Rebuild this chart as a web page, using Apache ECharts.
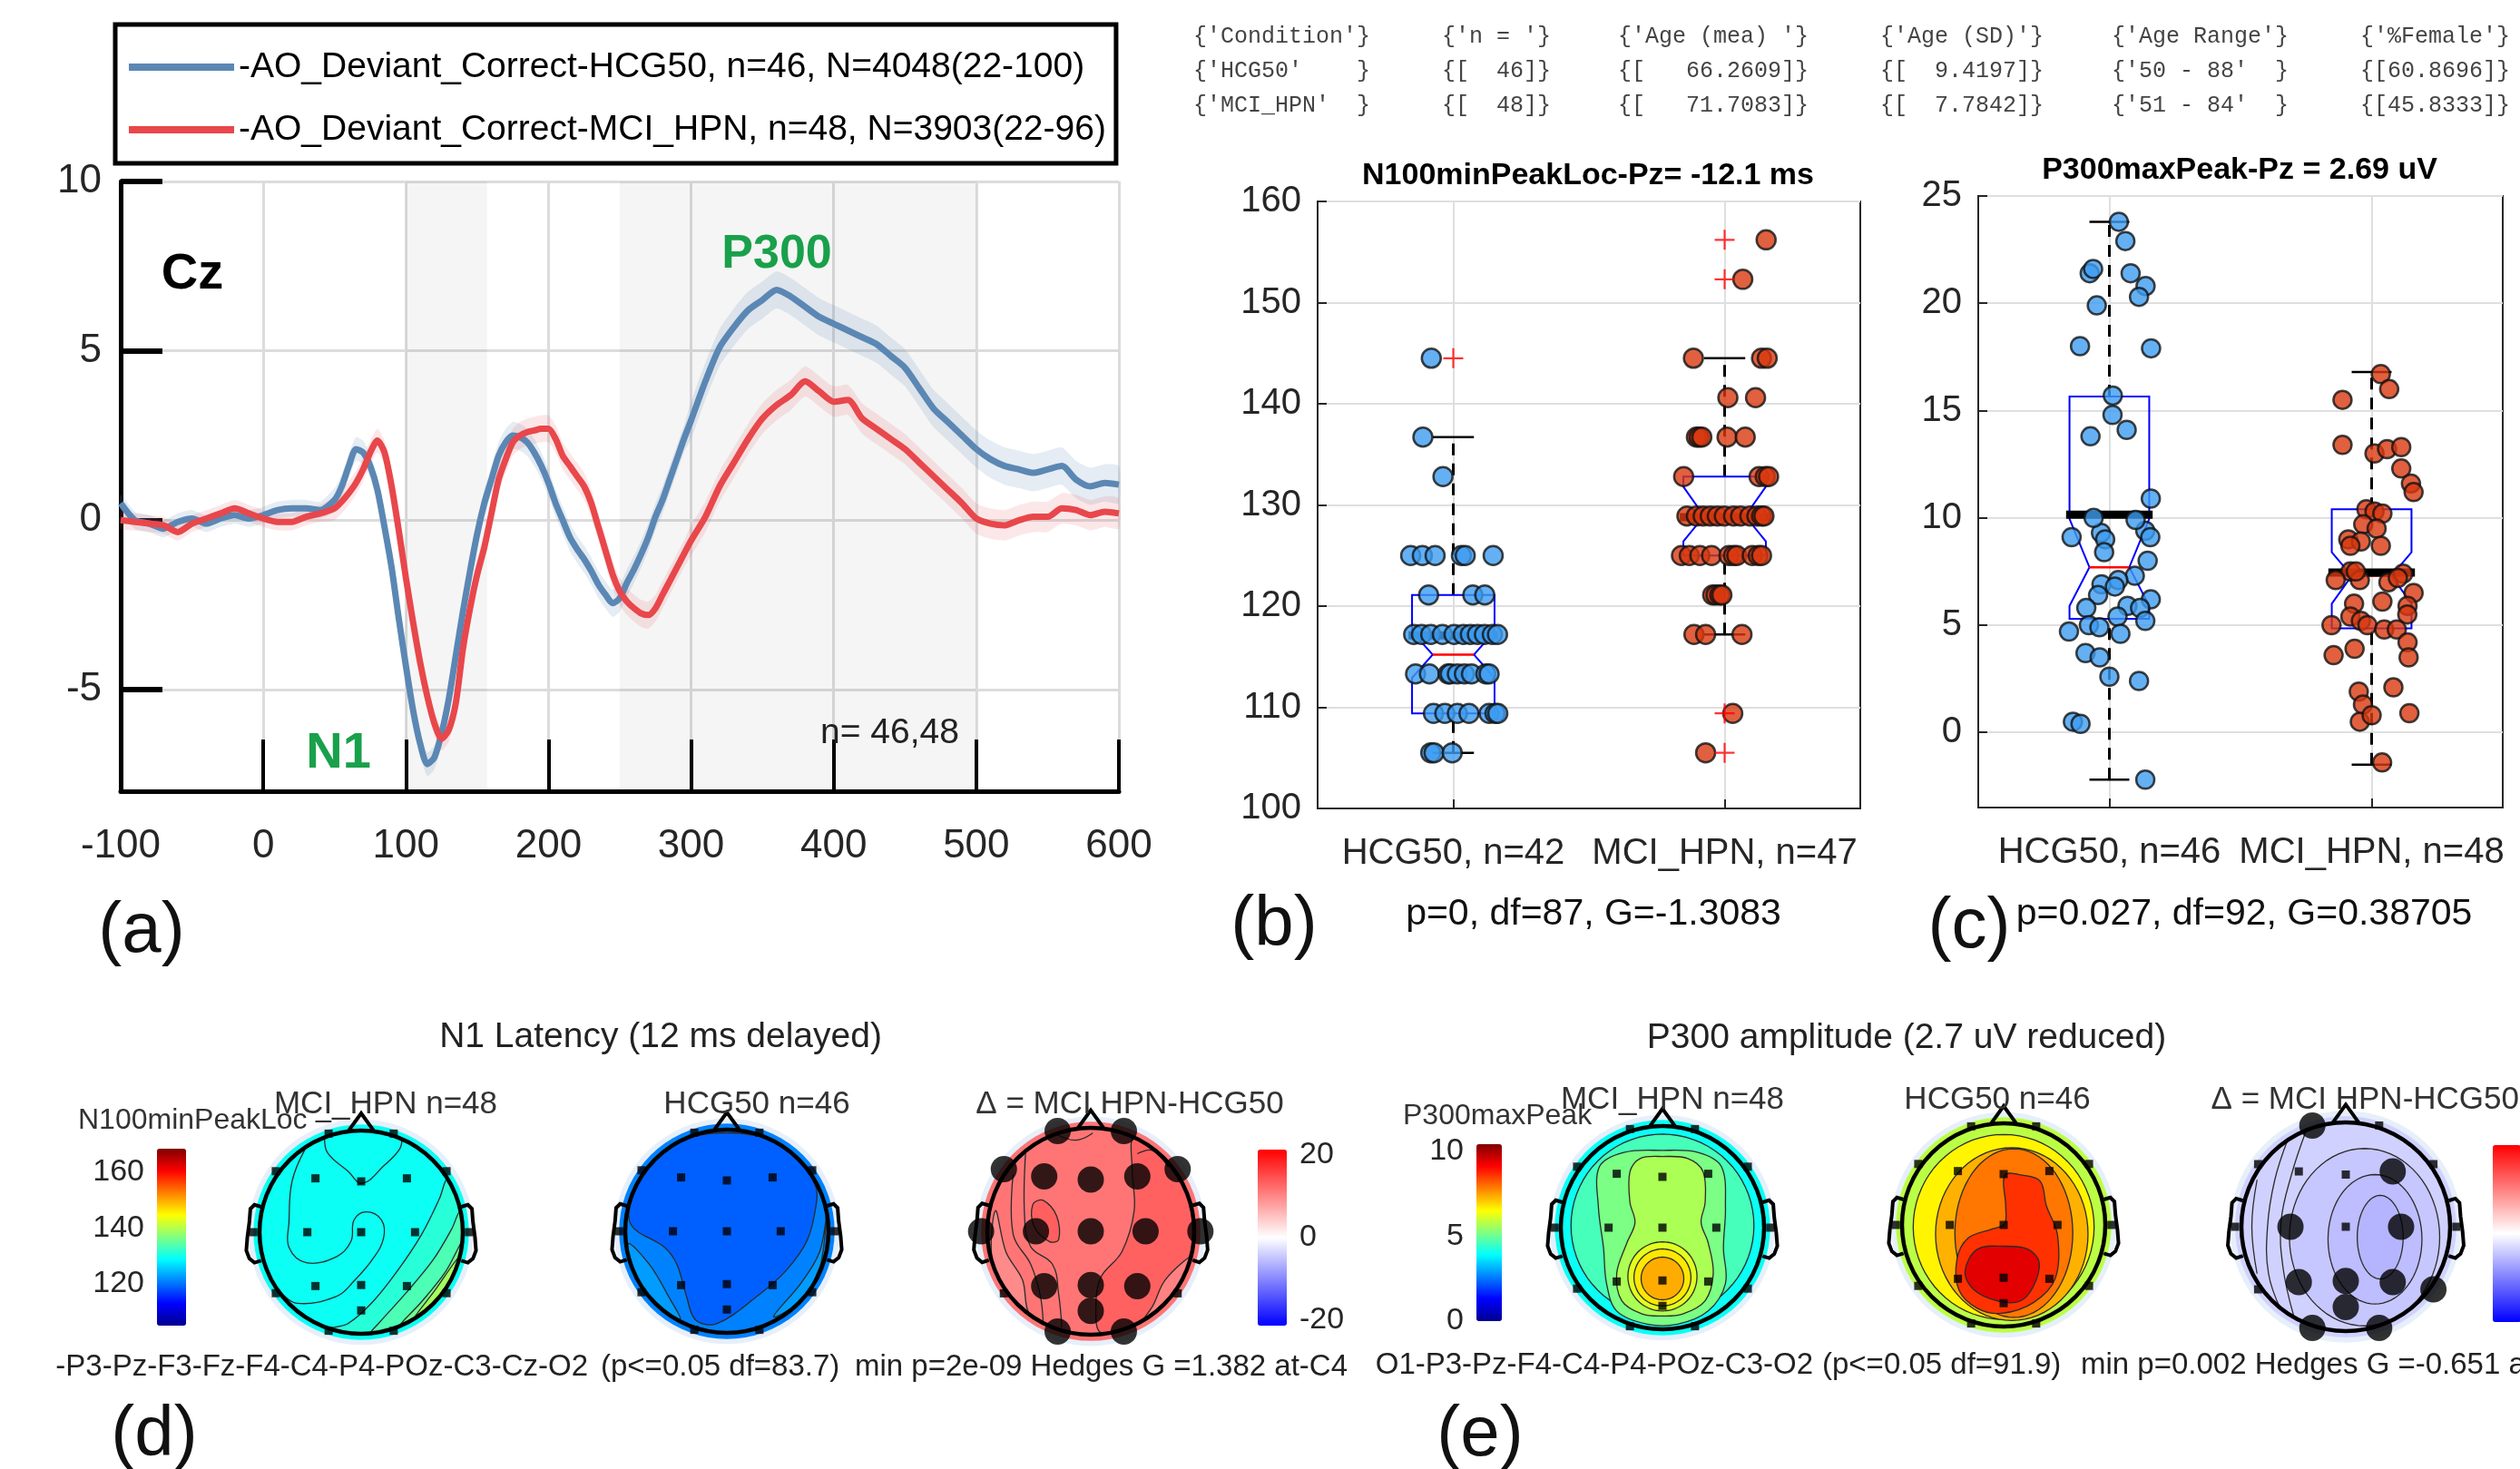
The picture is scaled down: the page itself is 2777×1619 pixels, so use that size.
<!DOCTYPE html>
<html>
<head>
<meta charset="utf-8">
<title>AO deviant ERP: HCG50 vs MCI_HPN</title>
<script src="https://cdn.jsdelivr.net/npm/echarts@6.0.0/dist/echarts.min.js"></script>
<style>
  html, body { margin: 0; padding: 0; background: #fff; }
  #chart { width: 2777px; height: 1619px; }
</style>
</head>
<body>
<div id="chart"></div>
<script>
// ---------- (a) grand average at Cz, uV ----------
const timeMs = [
  -100, -90, -80, -70, -60, -50, -40, -30, -20, -10, 0, 10, 20, 30, 40,
  50, 55, 60, 65, 70, 75, 80, 85, 90, 95, 100, 105, 110, 115, 120, 125, 130, 135, 140, 145,
  150, 155, 160, 165, 170, 175, 180, 185, 190, 195, 200, 205, 210, 215, 220, 225, 230, 235, 240, 245,
  250, 255, 260, 265, 270, 275, 280, 285, 290, 295, 300,
  310, 320, 330, 340, 350, 360, 370, 380, 390, 400, 410, 420, 430, 440, 450, 460, 470, 480, 490, 500,
  510, 520, 530, 540, 550, 560, 570, 580, 590, 600
];
const hcgCz = [
  0.5, 0.0, -0.1, -0.25, -0.05, 0.05, -0.1, 0.05, 0.15, 0.05, 0.15, 0.3, 0.35, 0.35, 0.3,
  0.6, 1.0, 1.6, 2.1, 2.0, 1.6, 0.9, -0.2, -1.4, -2.9, -4.3, -5.6, -6.6, -7.2, -7.0, -6.3, -5.3, -4.0, -2.7, -1.5,
  -0.4, 0.5, 1.2, 1.9, 2.3, 2.5, 2.45, 2.3, 2.0, 1.6, 1.1, 0.5, 0.0, -0.5, -0.85, -1.15, -1.5, -1.9, -2.2, -2.45,
  -2.3, -1.85, -1.45, -1.0, -0.5, 0.1, 0.6, 1.2, 1.8, 2.4, 2.95,
  4.1, 5.1, 5.7, 6.2, 6.5, 6.8, 6.6, 6.3, 6.0, 5.8, 5.6, 5.4, 5.2, 4.85, 4.5, 3.9, 3.3, 2.9, 2.5, 2.1,
  1.8, 1.6, 1.5, 1.4, 1.5, 1.6, 1.2, 1.0, 1.1, 1.05
];
const mciCz = [
  0.0, -0.05, -0.1, -0.15, -0.35, -0.1, 0.05, 0.2, 0.35, 0.2, 0.05, -0.05, -0.05, 0.1, 0.2,
  0.35, 0.55, 0.8, 1.1, 1.5, 2.0, 2.35, 2.0, 1.0, -0.3, -1.7, -3.0, -4.2, -5.2, -6.0, -6.45, -6.2, -5.4, -3.8, -2.6,
  -1.6, -0.8, 0.2, 1.2, 1.8, 2.3, 2.5, 2.6, 2.65, 2.7, 2.7, 2.4, 1.9, 1.6, 1.3, 1.0, 0.5, -0.2, -0.9, -1.6,
  -2.1, -2.4, -2.6, -2.75, -2.8, -2.6, -2.2, -1.8, -1.4, -1.0, -0.6,
  0.1, 1.0, 1.7, 2.4, 3.0, 3.4, 3.7, 4.1, 3.8, 3.5, 3.55, 3.0, 2.7, 2.4, 2.1, 1.7, 1.3, 0.9, 0.5, 0.05,
  -0.1, -0.15, 0.0, 0.1, 0.1, 0.35, 0.3, 0.15, 0.25, 0.2
];
// standard error half width, [from ms, uV]
const hcgSemSteps = [[-100, 0.25], [50, 0.35], [150, 0.4], [300, 0.55]];
const mciSemSteps = [[-100, 0.25], [50, 0.35], [150, 0.4], [300, 0.45]];
const analysisWindows = [[100, 157], [250, 500]];
const legendNames = [
  '-AO_Deviant_Correct-HCG50, n=46, N=4048(22-100)',
  '-AO_Deviant_Correct-MCI_HPN, n=48, N=3903(22-96)'
];
const czTicks = [-5, 0, 5, 10];

// ---------- (b) N1 latency at Pz, ms ----------
const latCategories = ['HCG50, n=42', 'MCI_HPN, n=47'];
const latHcg = [
  [0.419, 144.5], [0.388, 136.7], [0.462, 132.8],
  [0.343, 125.0], [0.386, 125.0], [0.433, 125.0], [0.530, 125.0], [0.544, 125.0], [0.647, 125.0],
  [0.409, 121.1], [0.572, 121.1], [0.616, 121.1],
  [0.354, 117.2], [0.383, 117.2], [0.417, 117.2], [0.460, 117.2], [0.503, 117.2], [0.537, 117.2],
  [0.563, 117.2], [0.589, 117.2], [0.615, 117.2], [0.644, 117.2], [0.663, 117.2],
  [0.361, 113.3], [0.412, 113.3], [0.481, 113.3], [0.489, 113.3], [0.515, 113.3], [0.541, 113.3],
  [0.567, 113.3], [0.620, 113.3], [0.632, 113.3],
  [0.427, 109.4], [0.469, 109.4], [0.515, 109.4], [0.558, 109.4], [0.632, 109.4], [0.654, 109.4], [0.664, 109.4],
  [0.417, 105.5], [0.429, 105.5], [0.496, 105.5]
];
const latMci = [
  [1.653, 156.2], [1.567, 152.3],
  [1.385, 144.5], [1.636, 144.5], [1.657, 144.5],
  [1.512, 140.6], [1.614, 140.6],
  [1.396, 136.7], [1.406, 136.7], [1.416, 136.7], [1.509, 136.7], [1.576, 136.7],
  [1.349, 132.8], [1.627, 132.8], [1.650, 132.8], [1.662, 132.8],
  [1.361, 128.9], [1.396, 128.9], [1.421, 128.9], [1.447, 128.9], [1.473, 128.9], [1.499, 128.9],
  [1.533, 128.9], [1.559, 128.9], [1.593, 128.9], [1.619, 128.9], [1.636, 128.9], [1.645, 128.9],
  [1.341, 125.0], [1.370, 125.0], [1.409, 125.0], [1.452, 125.0], [1.516, 125.0], [1.533, 125.0],
  [1.545, 125.0], [1.602, 125.0], [1.624, 125.0], [1.636, 125.0],
  [1.456, 121.1], [1.468, 121.1], [1.482, 121.1], [1.490, 121.1],
  [1.387, 117.2], [1.430, 117.2], [1.564, 117.2],
  [1.530, 109.4], [1.430, 105.5]
];
// [centre, whisker low, q1, notch low, median, notch high, q3, whisker high, mean]
const latBoxes = [
  [0.5, 105.5, 109.4, 112.9, 115.2, 117.5, 121.1, 136.7, 117.1],
  [1.5, 117.2, 125.0, 126.4, 128.9, 131.8, 132.8, 144.5, 128.8]
];
const latOutliers = [[0.5, 144.5], [1.5, 156.2], [1.5, 152.3], [1.5, 109.4], [1.5, 105.5]];

// ---------- (c) P300 amplitude at Pz, uV ----------
const ampCategories = ['HCG50, n=46', 'MCI_HPN, n=48'];
const ampTicks = [0, 5, 10, 15, 20, 25];
const ampHcg = [
  [0.536, 23.8], [0.561, 22.9], [0.425, 21.4], [0.438, 21.6], [0.581, 21.4], [0.638, 20.8], [0.613, 20.3],
  [0.452, 19.9], [0.388, 18.0], [0.659, 17.9], [0.513, 15.7], [0.512, 14.8], [0.428, 13.8], [0.566, 14.1],
  [0.658, 10.9], [0.356, 9.1], [0.468, 9.3], [0.484, 9.0], [0.480, 8.4], [0.637, 9.4], [0.656, 9.1],
  [0.646, 8.0], [0.597, 7.3], [0.470, 6.9], [0.534, 7.1], [0.521, 6.8], [0.457, 6.4], [0.569, 5.9],
  [0.658, 6.2], [0.412, 5.8], [0.617, 5.8], [0.531, 5.4], [0.637, 5.2], [0.422, 5.0], [0.462, 4.9],
  [0.346, 4.7], [0.542, 4.6], [0.409, 3.7], [0.463, 3.5], [0.500, 2.6], [0.613, 2.4], [0.361, 0.5],
  [0.390, 0.4], [0.637, -2.2], [0.440, 10.0], [0.600, 9.9]
];
const ampMci = [
  [1.535, 16.7], [1.567, 16.0], [1.389, 15.5], [1.389, 13.4], [1.511, 13.0], [1.559, 13.2], [1.613, 13.3],
  [1.613, 12.3], [1.650, 11.6], [1.660, 11.2], [1.480, 10.4], [1.511, 10.3], [1.541, 10.2], [1.468, 9.7],
  [1.519, 9.5], [1.411, 9.0], [1.459, 8.9], [1.419, 8.7], [1.535, 8.7], [1.419, 7.5], [1.363, 7.1],
  [1.455, 7.1], [1.564, 7.0], [1.620, 7.4], [1.660, 6.5], [1.433, 6.0], [1.541, 6.1], [1.637, 5.9],
  [1.636, 5.5], [1.419, 5.4], [1.459, 5.2], [1.347, 5.0], [1.484, 5.0], [1.548, 4.8], [1.596, 4.8],
  [1.637, 4.2], [1.435, 3.9], [1.355, 3.6], [1.641, 3.5], [1.583, 2.1], [1.451, 1.9], [1.467, 1.3],
  [1.455, 0.5], [1.500, 0.8], [1.644, 0.9], [1.540, -1.4], [1.440, 7.5], [1.600, 7.2]
];
const ampBoxes = [
  [0.5, -2.2, 5.3, 5.9, 7.7, 9.95, 15.65, 23.8, 10.15],
  [1.5, -1.5, 4.85, 6.0, 7.3, 8.4, 10.4, 16.8, 7.45]
];

// ---------- (d)/(e) scalp maps ----------
const electrodeNames = ['Fp1', 'Fp2', 'F7', 'F3', 'Fz', 'F4', 'F8', 'T7', 'C3', 'Cz', 'C4', 'T8', 'P7', 'P3', 'Pz', 'P4', 'P8', 'POz', 'O1', 'O2'];
const electrodeX = [-0.32, 0.32, -0.84, -0.45, 0, 0.45, 0.84, -1.06, -0.53, 0, 0.53, 1.06, -0.84, -0.45, 0, 0.45, 0.84, 0, -0.32, 0.32];
const electrodeY = [0.97, 0.97, 0.6, 0.53, 0.5, 0.53, 0.6, 0, 0, 0, 0, 0, -0.6, -0.53, -0.52, -0.53, -0.6, -0.77, -0.97, -0.97];
const n1Significant = ['Fp1', 'Fp2', 'F7', 'F3', 'Fz', 'F4', 'F8', 'T7', 'C3', 'Cz', 'C4', 'T8', 'P3', 'Pz', 'P4', 'POz', 'O1', 'O2'];
const p300Significant = ['Fp1', 'F4', 'C3', 'C4', 'P3', 'Pz', 'P4', 'P8', 'POz', 'O1', 'O2'];

// contour regions: [value, cx, cy, rx, ry] or [value, outline points], head radius = 1
const n1MciMap = [
  [129.5, 0, 0, 1.06, 1.06],
  [131.2, [[0.85, 0.53], [0.77, 0.33], [0.59, -0.03], [0.35, -0.39], [0.11, -0.69], [-0.13, -0.9], [-0.3, -0.95], [0, -1], [0.5, -0.87], [0.87, -0.5], [1, 0], [0.93, 0.36]]],
  [133.5, [[0.97, 0.2], [0.89, 0.03], [0.71, -0.27], [0.44, -0.6], [0.17, -0.9], [0.1, -0.99], [0.5, -0.87], [0.87, -0.5], [1, 0]]],
  [136, [[0.99, -0.1], [0.83, -0.39], [0.59, -0.69], [0.38, -0.92], [0.6, -0.8], [0.87, -0.5]]],
  [139, [[0.96, -0.25], [0.72, -0.58], [0.52, -0.85], [0.72, -0.69], [0.87, -0.5]]]
];
const n1MciLines = [
  [[-0.36, 0.93], [-0.33, 0.78], [-0.13, 0.6], [0.01, 0.48], [0.23, 0.66], [0.38, 0.82], [0.4, 0.93]],
  [[-0.55, 0.82], [-0.68, 0.5], [-0.71, 0.1], [-0.71, -0.15], [-0.54, -0.3], [-0.24, -0.24], [-0.1, -0.09], [-0.07, 0.12], [0.05, 0.2], [0.2, 0.12], [0.22, -0.06], [0.11, -0.27], [-0.07, -0.48], [-0.24, -0.63], [-0.63, -0.7], [-0.8, -0.58]]
];
const n1HcgMap = [
  [121, 0, 0, 1.06, 1.06],
  [118.9, [[-0.94, 0.06], [-0.61, -0.16], [-0.49, -0.33], [-0.4, -0.63], [-0.31, -0.87], [-0.1, -0.91], [0.31, -0.63], [0.58, -0.39], [0.79, -0.09], [0.88, 0.27], [0.87, 0.45], [0.7, 0.71], [0.35, 0.93], [-0.35, 0.93], [-0.72, 0.68], [-0.93, 0.33]]],
  [122.6, [[-0.97, -0.12], [-0.76, -0.33], [-0.58, -0.63], [-0.46, -0.87], [-0.72, -0.69], [-0.9, -0.42]]],
  [122.6, [[0.98, 0.15], [0.91, -0.21], [0.73, -0.51], [0.46, -0.84], [0.72, -0.69], [0.9, -0.42]]],
  [125, [[0.99, -0.15], [0.85, -0.52], [0.62, -0.78], [0.8, -0.6]]]
];
const n1DeltaMap = [
  [11.5, 0, 0, 1.06, 1.06],
  [13.2, [[0.42, 0.9], [0.4, 0.6], [0.42, 0.2], [0.3, -0.2], [0.1, -0.44], [0.05, -0.7], [0.1, -0.98], [0.5, -0.87], [0.87, -0.5], [1, 0], [0.87, 0.5]]],
  [9.8, [[-0.92, 0.2], [-0.82, -0.2], [-0.66, -0.47], [-0.6, -0.79], [-0.45, -0.89], [-0.75, -0.66], [-0.95, -0.3]]],
  [10.5, [[0.97, -0.25], [0.72, -0.47], [0.6, -0.72], [0.5, -0.87], [0.8, -0.6]]],
  [13.4, [[-0.56, 0.26], [-0.46, 0.3], [-0.33, 0.15], [-0.31, -0.08], [-0.4, -0.1], [-0.55, 0.05]]]
];
const n1DeltaLines = [
  [[-0.63, 0.76], [-0.64, 0.15], [-0.58, -0.15], [-0.37, -0.32], [-0.31, -0.61], [-0.28, -0.93]],
  [[-0.75, 0.55], [-0.75, -0.03], [-0.58, -0.32], [-0.49, -0.61], [-0.46, -0.88]],
  [[0.45, 0.75], [0.6, 0.78], [0.75, 0.62]],
  [[-0.35, 0.95], [-0.15, 0.88], [0.02, 0.95]]
];
const p3MciMap = [
  [4.0, 0, 0, 1.06, 1.06],
  [4.6, 0, 0.02, 0.9, 0.9],
  [5.15, [[0, 0.76], [0.35, 0.74], [0.58, 0.6], [0.62, 0.2], [0.6, -0.2], [0.62, -0.55], [0.45, -0.82], [0.15, -0.95], [-0.15, -0.95], [-0.45, -0.82], [-0.55, -0.55], [-0.58, -0.2], [-0.63, 0.2], [-0.62, 0.6], [-0.38, 0.74]]],
  [5.65, [[0, 0.7], [0.25, 0.68], [0.4, 0.55], [0.42, 0.25], [0.38, 0.05], [0.45, -0.15], [0.5, -0.45], [0.42, -0.72], [0.2, -0.85], [0, -0.87], [-0.2, -0.85], [-0.4, -0.72], [-0.45, -0.45], [-0.35, -0.15], [-0.27, 0.05], [-0.32, 0.25], [-0.32, 0.55], [-0.22, 0.68]]],
  [6.2, 0, -0.48, 0.34, 0.34],
  [6.75, 0, -0.49, 0.28, 0.28],
  [7.35, 0, -0.5, 0.21, 0.21]
];
const p3HcgMap = [
  [5.8, 0, 0, 1.06, 1.06],
  [6.6, 0, -0.02, 0.89, 0.91],
  [7.3, 0.08, -0.09, 0.75, 0.85],
  [7.9, 0.1, -0.08, 0.58, 0.83],
  [8.6, [[0.01, 0.49], [0.02, 0.19], [0.01, 0.01], [-0.11, -0.04], [-0.35, -0.13], [-0.46, -0.34], [-0.44, -0.64], [-0.26, -0.82], [-0.02, -0.87], [0.3, -0.76], [0.51, -0.52], [0.53, -0.1], [0.42, 0.19], [0.36, 0.43], [0.18, 0.49]]],
  [9.4, [[-0.26, -0.24], [-0.38, -0.46], [-0.29, -0.64], [-0.05, -0.75], [0.16, -0.75], [0.29, -0.61], [0.35, -0.37], [0.24, -0.24], [0.01, -0.21]]]
];
const p3DeltaMap = [
  [-1.8, 0, 0, 1.06, 1.06],
  [-2.2, 0.18, -0.1, 0.72, 0.85],
  [-2.6, 0.28, -0.12, 0.45, 0.62],
  [-2.9, 0.33, -0.1, 0.22, 0.4]
];
const p3DeltaLines = [
  [[-0.55, 0.85], [-0.68, 0.45], [-0.75, 0.0], [-0.74, -0.45], [-0.62, -0.8]],
  [[-0.38, 0.92], [-0.52, 0.5], [-0.62, 0.05], [-0.6, -0.4], [-0.5, -0.85]],
  [[-0.85, 0.45], [-0.9, 0.0], [-0.85, -0.45]]
];

const jetColors = ['#00008f', '#0000ff', '#0080ff', '#00ffff', '#80ff80', '#ffff00', '#ff8000', '#ff0000', '#800000'];
const bwrColors = ['#0000ff', '#ffffff', '#ff0000'];

// ---------- layout ----------
const FONT = '"Liberation Sans", Arial, Helvetica, sans-serif';
const MONO = '"Liberation Mono", "Courier New", monospace';
const txtColor = '#262626';
const blue = '#5b87b4', red = '#e8474b', green = '#19a04b';

const heads = [
  { cx: 398, cy: 1358, r: 112, map: n1MciMap, lines: n1MciLines, sig: null, vm: 0 },
  { cx: 801, cy: 1357, r: 112, map: n1HcgMap, lines: [], sig: null, vm: 0 },
  { cx: 1202, cy: 1357, r: 114, map: n1DeltaMap, lines: n1DeltaLines, sig: n1Significant, vm: 1 },
  { cx: 1832, cy: 1353, r: 112, map: p3MciMap, lines: [], sig: null, vm: 2 },
  { cx: 2208, cy: 1350, r: 112, map: p3HcgMap, lines: [], sig: null, vm: 2 },
  { cx: 2585, cy: 1352, r: 115, map: p3DeltaMap, lines: p3DeltaLines, sig: p300Significant, vm: 3 }
];
const colorbars = [
  { left: 173, top: 1266, width: 32, height: 195, min: 105, max: 168.5, ticks: [120, 140, 160], side: 'left', colors: jetColors },
  { left: 1386, top: 1267, width: 32, height: 194, min: -21.3, max: 21.3, ticks: [-20, 0, 20], side: 'right', colors: bwrColors },
  { left: 1627, top: 1261, width: 28, height: 195, min: 0, max: 10.4, ticks: [0, 5, 10], side: 'left', colors: jetColors },
  { left: 2747, top: 1262, width: 31, height: 195, min: -10, max: 10, ticks: [], side: 'right', colors: bwrColors }
];

function semAt(steps, t) {
  let v = steps[0][1];
  steps.forEach(s => { if (t >= s[0]) v = s[1]; });
  return v;
}
function ellipsePoints(cx, cy, rx, ry) {
  const pts = [];
  for (let k = 0; k < 72; k++) {
    const a = k / 72 * Math.PI * 2;
    pts.push([cx + rx * Math.cos(a), cy + ry * Math.sin(a)]);
  }
  return pts;
}
function regionPoints(reg) {
  return Array.isArray(reg[1]) ? reg[1] : ellipsePoints(reg[1], reg[2], reg[3], reg[4]);
}

const grid = [
  { left: 133, top: 200, width: 1100, height: 672 },
  { left: 1452, top: 222, width: 598, height: 669, show: true, borderColor: '#262626', borderWidth: 2 },
  { left: 2180, top: 216, width: 578, height: 674, show: true, borderColor: '#262626', borderWidth: 2 }
];
heads.forEach(h => grid.push({ left: h.cx - 1.3 * h.r, top: h.cy - 1.3 * h.r, width: 2.6 * h.r, height: 2.6 * h.r }));
colorbars.forEach(cb => grid.push({ left: cb.left, top: cb.top, width: cb.width, height: cb.height }));

const xAxis = [
  {
    gridIndex: 0, type: 'value', min: -100, max: 600, interval: 100,
    axisLine: { onZero: false, lineStyle: { color: '#000', width: 5 } },
    axisTick: { inside: true, length: 57, lineStyle: { color: '#000', width: 4 } },
    axisLabel: { fontSize: 44, color: txtColor, margin: 39, fontFamily: FONT },
    splitLine: { show: true, lineStyle: { color: '#dcdcdc', width: 3 } }
  },
  {
    gridIndex: 1, type: 'value', min: 0, max: 2,
    axisLine: { onZero: false, lineStyle: { color: '#262626', width: 2 } },
    axisTick: { customValues: [0.5, 1.5], inside: true, length: 10, lineStyle: { color: '#262626', width: 2 } },
    axisLabel: { customValues: [0.5, 1.5], formatter: v => latCategories[v < 1 ? 0 : 1], fontSize: 40, color: txtColor, margin: 30, fontFamily: FONT },
    splitLine: { show: true, lineStyle: { color: '#dfdfdf', width: 2 } }
  },
  {
    gridIndex: 2, type: 'value', min: 0, max: 2,
    axisLine: { onZero: false, lineStyle: { color: '#262626', width: 2 } },
    axisTick: { customValues: [0.5, 1.5], inside: true, length: 10, lineStyle: { color: '#262626', width: 2 } },
    axisLabel: { customValues: [0.5, 1.5], formatter: v => ampCategories[v < 1 ? 0 : 1], fontSize: 40, color: txtColor, margin: 30, fontFamily: FONT },
    splitLine: { show: true, lineStyle: { color: '#dfdfdf', width: 2 } }
  }
];
const yAxis = [
  {
    gridIndex: 0, type: 'value', min: -8, max: 10,
    axisLine: { show: true, onZero: false, lineStyle: { color: '#000', width: 5 } },
    axisTick: { show: true, inside: true, length: 46, customValues: czTicks, lineStyle: { color: '#000', width: 6 } },
    axisLabel: { customValues: czTicks, fontSize: 44, color: txtColor, margin: 21, fontFamily: FONT },
    splitLine: { show: true, lineStyle: { color: '#dcdcdc', width: 3 } }
  },
  {
    gridIndex: 1, type: 'value', min: 100, max: 160, interval: 10,
    axisLine: { show: true, onZero: false, lineStyle: { color: '#262626', width: 2 } },
    axisTick: { show: true, inside: true, length: 10, lineStyle: { color: '#262626', width: 2 } },
    axisLabel: { fontSize: 40, color: txtColor, margin: 18, fontFamily: FONT },
    splitLine: { show: true, lineStyle: { color: '#dfdfdf', width: 2 } }
  },
  {
    gridIndex: 2, type: 'value', min: -3.5, max: 25,
    axisLine: { show: true, onZero: false, lineStyle: { color: '#262626', width: 2 } },
    axisTick: { show: true, inside: true, length: 10, customValues: ampTicks, lineStyle: { color: '#262626', width: 2 } },
    axisLabel: { customValues: ampTicks, fontSize: 40, color: txtColor, margin: 18, fontFamily: FONT },
    splitLine: { show: true, lineStyle: { color: '#dfdfdf', width: 2 } }
  }
];
heads.forEach((h, k) => {
  xAxis.push({ gridIndex: 3 + k, type: 'value', min: -1.3, max: 1.3, show: false });
  yAxis.push({ gridIndex: 3 + k, type: 'value', min: -1.3, max: 1.3, show: false });
});
colorbars.forEach((cb, k) => {
  xAxis.push({ gridIndex: 9 + k, type: 'value', min: 0, max: 1, show: false });
  yAxis.push({
    gridIndex: 9 + k, type: 'value', min: cb.min, max: cb.max, position: cb.side,
    axisLine: { show: false }, axisTick: { show: false }, splitLine: { show: false },
    axisLabel: { show: cb.ticks.length > 0, customValues: cb.ticks, fontSize: 34, color: txtColor, margin: 14, fontFamily: FONT }
  });
});

// ---------- series ----------
const series = [];
// shaded analysis windows
series.push({
  type: 'custom', xAxisIndex: 0, yAxisIndex: 0, silent: true, data: analysisWindows, encode: { x: [0, 1] },
  renderItem: (p, api) => {
    const a = api.coord([api.value(0), 10]), b = api.coord([api.value(1), -8]);
    return { type: 'rect', shape: { x: a[0], y: a[1], width: b[0] - a[0], height: b[1] - a[1] }, style: { fill: 'rgba(0,0,0,0.04)' } };
  }
});
// error bands
function bandSeries(mean, steps, color) {
  return {
    type: 'custom', xAxisIndex: 0, yAxisIndex: 0, silent: true, data: [[0, 0]],
    renderItem: (p, api) => {
      const upper = timeMs.map((t, i) => api.coord([t, mean[i] + semAt(steps, t)]));
      const lower = timeMs.map((t, i) => api.coord([t, mean[i] - semAt(steps, t)])).reverse();
      return { type: 'polygon', shape: { points: upper.concat(lower), smooth: 0.2 }, style: { fill: color } };
    }
  };
}
series.push(bandSeries(hcgCz, hcgSemSteps, 'rgba(91,135,180,0.16)'));
series.push(bandSeries(mciCz, mciSemSteps, 'rgba(232,71,75,0.13)'));
series.push({
  type: 'line', name: legendNames[0], xAxisIndex: 0, yAxisIndex: 0, symbol: 'none', smooth: 0.25,
  data: timeMs.map((t, i) => [t, hcgCz[i]]), lineStyle: { color: blue, width: 7 }, itemStyle: { color: blue }
});
series.push({
  type: 'line', name: legendNames[1], xAxisIndex: 0, yAxisIndex: 0, symbol: 'none', smooth: 0.25,
  data: timeMs.map((t, i) => [t, mciCz[i]]), lineStyle: { color: red, width: 7 }, itemStyle: { color: red }
});

function renderBox(params, api) {
  const c = api.value(0), wl = api.value(1), q1 = api.value(2), nl = api.value(3), med = api.value(4),
    nh = api.value(5), q3 = api.value(6), wh = api.value(7);
  const P = (x, y) => api.coord([x, y]);
  const bw = 0.152, nw = 0.076, cw = 0.076;
  const line = (a, b, style) => ({ type: 'line', shape: { x1: a[0], y1: a[1], x2: b[0], y2: b[1] }, style });
  const dash = { stroke: '#000', lineWidth: 3, lineDash: [13, 9] };
  const solid = { stroke: '#000', lineWidth: 2.5 };
  return {
    type: 'group', children: [
      line(P(c, q3), P(c, wh), dash),
      line(P(c, wl), P(c, q1), dash),
      line(P(c - cw, wh), P(c + cw, wh), solid),
      line(P(c - cw, wl), P(c + cw, wl), solid),
      {
        type: 'polygon',
        shape: { points: [P(c - bw, q1), P(c + bw, q1), P(c + bw, nl), P(c + nw, med), P(c + bw, nh), P(c + bw, q3), P(c - bw, q3), P(c - bw, nh), P(c - nw, med), P(c - bw, nl)] },
        style: { fill: 'none', stroke: '#0000ff', lineWidth: 2 }
      },
      line(P(c - nw, med), P(c + nw, med), { stroke: '#ff0000', lineWidth: 2.5 })
    ]
  };
}
function renderMean(params, api) {
  const c = api.value(0), m = api.value(8);
  const a = api.coord([c - 0.165, m]), b = api.coord([c + 0.165, m]);
  return { type: 'line', shape: { x1: a[0], y1: a[1], x2: b[0], y2: b[1] }, style: { stroke: '#000', lineWidth: 9 } };
}
const plusPath = 'path://M-1,-0.1L-0.1,-0.1L-0.1,-1L0.1,-1L0.1,-0.1L1,-0.1L1,0.1L0.1,0.1L0.1,1L-0.1,1L-0.1,0.1L-1,0.1Z';
const dotStyle = (color) => ({ color, borderColor: '#111', borderWidth: 2.5 });

[[1, latBoxes, latHcg, latMci, latOutliers, 21], [2, ampBoxes, ampHcg, ampMci, [], 20]].forEach(([ax, boxes, hcg, mci, outl, size]) => {
  series.push({ type: 'custom', xAxisIndex: ax, yAxisIndex: ax, data: boxes, encode: { x: 0, y: 4 }, renderItem: renderBox, silent: true });
  series.push({ type: 'scatter', xAxisIndex: ax, yAxisIndex: ax, data: hcg, symbolSize: size, itemStyle: dotStyle('#3d9cf0') });
  series.push({ type: 'scatter', xAxisIndex: ax, yAxisIndex: ax, data: mci, symbolSize: size, itemStyle: dotStyle('#d8380f') });
  series.push({ type: 'custom', xAxisIndex: ax, yAxisIndex: ax, data: boxes, encode: { x: 0, y: 8 }, renderItem: renderMean, silent: true });
  if (outl.length) {
    series.push({ type: 'scatter', xAxisIndex: ax, yAxisIndex: ax, data: outl, symbol: plusPath, symbolSize: 22, itemStyle: { color: '#ff0000' } });
  }
});

const regionSeries = [[], [], [], []];
heads.forEach((h, k) => {
  const ax = 3 + k;
  series.push({
    type: 'custom', xAxisIndex: ax, yAxisIndex: ax, silent: true, data: [[0, 0]],
    renderItem: (p, api) => {
      const c = api.coord([0, 0]), rad = api.size([1, 1])[0];
      return { type: 'circle', shape: { cx: c[0], cy: c[1], r: rad * 1.11 }, style: { fill: '#e6effa' } };
    }
  });
  regionSeries[h.vm].push(series.length);
  series.push({
    type: 'custom', xAxisIndex: ax, yAxisIndex: ax, silent: true,
    data: h.map.map((r, i) => [r[0], i]), encode: { x: 1, y: 1 },
    renderItem: (p, api) => {
      const reg = h.map[p.dataIndex];
      const pts = regionPoints(reg).map(q => api.coord(q));
      return {
        type: 'polygon',
        shape: { points: pts, smooth: Array.isArray(reg[1]) ? 0.35 : 0 },
        style: { fill: api.visual('color'), stroke: p.dataIndex === 0 ? 'none' : '#2b2b2b', lineWidth: 1.3 }
      };
    }
  });
  series.push({
    type: 'custom', xAxisIndex: ax, yAxisIndex: ax, silent: true, data: [[0, 0]],
    renderItem: (p, api) => {
      const P = q => api.coord(q);
      const c = P([0, 0]), rad = api.size([1, 1])[0];
      const children = h.lines.map(l => ({ type: 'polyline', shape: { points: l.map(P), smooth: 0.4 }, style: { stroke: '#2b2b2b', lineWidth: 1.3, fill: 'none' } }));
      const earL = [[-0.985, 0.25], [-1.05, 0.27], [-1.09, 0.23], [-1.1, 0.1], [-1.12, -0.05], [-1.13, -0.18], [-1.1, -0.26], [-1.05, -0.3], [-0.985, -0.28]];
      const earR = earL.map(q => [-q[0], q[1]]);
      children.push({ type: 'circle', shape: { cx: c[0], cy: c[1], r: rad }, style: { fill: 'none', stroke: '#000', lineWidth: 4.5 } });
      children.push({ type: 'polyline', shape: { points: [[-0.13, 0.99], [0, 1.17], [0.13, 0.99]].map(P) }, style: { fill: 'none', stroke: '#000', lineWidth: 4 } });
      children.push({ type: 'polyline', shape: { points: earL.map(P) }, style: { fill: 'none', stroke: '#000', lineWidth: 4 } });
      children.push({ type: 'polyline', shape: { points: earR.map(P) }, style: { fill: 'none', stroke: '#000', lineWidth: 4 } });
      return { type: 'group', children };
    }
  });
  const all = electrodeNames.map((n, i) => [electrodeX[i], electrodeY[i], n]);
  const isSig = e => h.sig && h.sig.indexOf(e[2]) >= 0;
  series.push({ type: 'scatter', xAxisIndex: ax, yAxisIndex: ax, silent: true, symbol: 'rect', symbolSize: 9, itemStyle: { color: '#000' }, data: all.filter(e => !isSig(e)) });
  if (h.sig) {
    series.push({ type: 'scatter', xAxisIndex: ax, yAxisIndex: ax, silent: true, symbol: 'circle', symbolSize: 29, itemStyle: { color: '#000' }, data: all.filter(isSig) });
  }
});

const visualMap = colorbars.map((cb, i) => ({
  type: 'continuous', show: true, min: cb.min, max: cb.max, dimension: 0,
  seriesIndex: regionSeries[i], inRange: { color: cb.colors },
  orient: 'vertical', left: cb.left, top: cb.top, itemWidth: cb.width, itemHeight: cb.height,
  calculable: false, hoverLink: false, padding: 0, text: null
}));

// ---------- text ----------
function txt(x, y, text, size, o) {
  o = o || {};
  return {
    type: 'text', x, y, z: 100, silent: true,
    style: {
      text, fontSize: size, fontFamily: o.mono ? MONO : FONT, fontWeight: o.bold ? 'bold' : 'normal',
      fill: o.color || '#111', textAlign: o.align || 'center', textVerticalAlign: 'middle'
    }
  };
}
const tableCols = [1315, 1589, 1783, 2072, 2327, 2601];
const tableRows = [
  ["{'Condition'}", "{'n = '}", "{'Age (mea) '}", "{'Age (SD)'}", "{'Age Range'}", "{'%Female'}"],
  ["{'HCG50'    }", "{[  46]}", "{[   66.2609]}", "{[  9.4197]}", "{'50 - 88'  }", "{[60.8696]}"],
  ["{'MCI_HPN'  }", "{[  48]}", "{[   71.7083]}", "{[  7.7842]}", "{'51 - 84'  }", "{[45.8333]}"]
];
const tableY = [40, 78, 116];
const graphic = [];
tableRows.forEach((row, r) => row.forEach((cell, c) => graphic.push(txt(tableCols[c], tableY[r], cell, 25, { mono: true, align: 'left', color: '#444' }))));
graphic.push(
  txt(212, 303, 'Cz', 56, { bold: true, color: '#000' }),
  txt(856, 281, 'P300', 52, { bold: true, color: green }),
  txt(373, 831, 'N1', 56, { bold: true, color: green }),
  txt(904, 808, 'n= 46,48', 39, { align: 'left', color: '#222' }),
  txt(156, 1027, '(a)', 78),
  txt(1750, 194, 'N100minPeakLoc-Pz= -12.1 ms', 34, { bold: true, color: '#000' }),
  txt(1756, 1008, 'p=0, df=87, G=-1.3083', 41),
  txt(1404, 1020, '(b)', 78),
  txt(2468, 188, 'P300maxPeak-Pz = 2.69 uV', 34, { bold: true, color: '#000' }),
  txt(2473, 1008, 'p=0.027, df=92, G=0.38705', 41),
  txt(2170, 1022, '(c)', 78),
  txt(728, 1143, 'N1 Latency (12 ms delayed)', 39, { color: '#222' }),
  txt(2101, 1144, 'P300 amplitude (2.7 uV reduced)', 39, { color: '#222' }),
  txt(86, 1235, 'N100minPeakLoc \u2013', 32, { align: 'left', color: '#333' }),
  txt(1546, 1230, 'P300maxPeak', 32, { align: 'left', color: '#333' }),
  txt(425, 1217, 'MCI_HPN n=48', 35, { color: '#333' }),
  txt(834, 1217, 'HCG50 n=46', 35, { color: '#333' }),
  txt(1245, 1217, '\u0394 = MCI HPN-HCG50', 35, { color: '#333' }),
  txt(1843, 1212, 'MCI_HPN n=48', 35, { color: '#333' }),
  txt(2201, 1212, 'HCG50 n=46', 35, { color: '#333' }),
  txt(2776, 1212, '\u0394 = MCI HPN-HCG50', 35, { align: 'right', color: '#333' }),
  txt(648, 1507, '-P3-Pz-F3-Fz-F4-C4-P4-POz-C3-Cz-O2', 33, { align: 'right', color: '#222' }),
  txt(662, 1507, '(p<=0.05 df=83.7)', 33, { align: 'left', color: '#222' }),
  txt(942, 1507, 'min p=2e-09 Hedges G =1.382 at-C4', 33, { align: 'left', color: '#222' }),
  txt(1998, 1505, 'O1-P3-Pz-F4-C4-P4-POz-C3-O2', 33, { align: 'right', color: '#222' }),
  txt(2008, 1505, '(p<=0.05 df=91.9)', 33, { align: 'left', color: '#222' }),
  txt(2293, 1505, 'min p=0.002 Hedges G =-0.651 at-Pz', 33, { align: 'left', color: '#222' }),
  txt(170, 1582, '(d)', 78),
  txt(1631, 1582, '(e)', 78)
);

const chart = echarts.init(document.getElementById('chart'), null, { renderer: 'canvas' });
chart.setOption({
  backgroundColor: '#fff',
  animation: false,
  textStyle: { fontFamily: FONT },
  legend: {
    data: legendNames, orient: 'vertical', left: 127, top: 27, padding: [24, 11, 14, 15],
    itemGap: 23, itemWidth: 116, itemHeight: 8, icon: 'rect', selectedMode: false,
    borderColor: '#000', borderWidth: 5,
    textStyle: { fontSize: 39, color: '#000', lineHeight: 46, fontFamily: FONT }
  },
  grid, xAxis, yAxis, visualMap, series, graphic
});
</script>
</body>
</html>
